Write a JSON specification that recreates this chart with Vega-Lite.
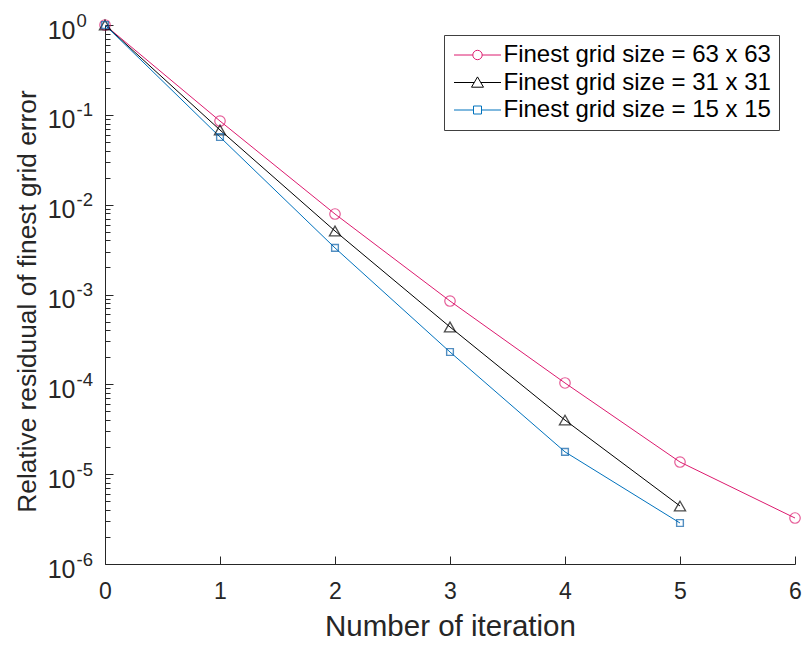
{
  "$schema": "https://vega.github.io/schema/vega-lite/v6.json",
  "autosize": {"type": "none"},
  "width": 690,
  "height": 539,
  "padding": {"left": 105, "top": 25, "right": 8, "bottom": 82},
  "background": "white",
  "config": {
    "font": "Liberation Sans",
    "view": {"stroke": null},
    "axis": {
      "grid": false,
      "domainColor": "#262626",
      "tickColor": "#262626",
      "labelColor": "#262626",
      "titleColor": "#262626",
      "labelFont": "Liberation Sans",
      "titleFont": "Liberation Sans",
      "titleFontWeight": "normal",
      "labelFontWeight": "normal",
      "domainWidth": 1,
      "tickWidth": 1
    }
  },
  "data": {
    "values": [
      {"iter": 0, "value": 1, "series": "Finest grid size = 63 x 63"},
      {"iter": 1, "value": 0.0853, "series": "Finest grid size = 63 x 63"},
      {"iter": 2, "value": 0.00787, "series": "Finest grid size = 63 x 63"},
      {"iter": 3, "value": 0.000846, "series": "Finest grid size = 63 x 63"},
      {"iter": 4, "value": 0.0001035, "series": "Finest grid size = 63 x 63"},
      {"iter": 5, "value": 0.00001365, "series": "Finest grid size = 63 x 63"},
      {"iter": 6, "value": 0.00000325, "series": "Finest grid size = 63 x 63"},
      {"iter": 0, "value": 1, "series": "Finest grid size = 31 x 31"},
      {"iter": 1, "value": 0.0678, "series": "Finest grid size = 31 x 31"},
      {"iter": 2, "value": 0.00509, "series": "Finest grid size = 31 x 31"},
      {"iter": 3, "value": 0.000435, "series": "Finest grid size = 31 x 31"},
      {"iter": 4, "value": 0.00004, "series": "Finest grid size = 31 x 31"},
      {"iter": 5, "value": 0.00000442, "series": "Finest grid size = 31 x 31"},
      {"iter": 0, "value": 1, "series": "Finest grid size = 15 x 15"},
      {"iter": 1, "value": 0.0566, "series": "Finest grid size = 15 x 15"},
      {"iter": 2, "value": 0.0033, "series": "Finest grid size = 15 x 15"},
      {"iter": 3, "value": 0.000229, "series": "Finest grid size = 15 x 15"},
      {"iter": 4, "value": 0.0000177, "series": "Finest grid size = 15 x 15"},
      {"iter": 5, "value": 0.00000286, "series": "Finest grid size = 15 x 15"}
    ]
  },
  "encoding": {
    "x": {
      "field": "iter",
      "type": "quantitative",
      "scale": {"domain": [0, 6], "nice": false, "zero": false},
      "axis": {
        "values": [0, 1, 2, 3, 4, 5, 6],
        "format": "d",
        "tickSize": -8,
        "labelPadding": 24,
        "labelFontSize": 23,
        "labelFlush": false,
        "labelOverlap": false,
        "title": "Number of iteration",
        "titleFontSize": 29.5,
        "titleY": 71,
        "titleBaseline": "alphabetic"
      }
    },
    "y": {
      "field": "value",
      "type": "quantitative",
      "scale": {"type": "log", "domain": [0.000001, 1], "nice": false},
      "axis": {
        "orient": "left",
        "values": [0.000001, 0.00001, 0.0001, 0.001, 0.01, 0.1, 1],
        "tickSize": -8,
        "labelPadding": 38,
        "labelFontSize": 25,
        "labelBaseline": "middle",
        "labelOffset": 5,
        "labelFlush": false,
        "labelOverlap": false,
        "labelExpr": "'10'",
        "title": "Relative residuual of finest grid error",
        "titleFontSize": 26.3,
        "titleAngle": 270,
        "titleX": -70,
        "titleY": 276,
        "titleBaseline": "alphabetic"
      }
    }
  },
  "layer": [
    {
      "mark": {"type": "point", "filled": false, "opacity": 0},
      "encoding": {
        "y": {
          "field": "value",
          "type": "quantitative",
          "axis": {
            "orient": "left",
            "values": [0.000002, 0.000003, 0.000004, 0.000005, 0.000006, 0.000007, 0.000008, 0.000009,
                       0.00002, 0.00003, 0.00004, 0.00005, 0.00006, 0.00007, 0.00008, 0.00009,
                       0.0002, 0.0003, 0.0004, 0.0005, 0.0006, 0.0007, 0.0008, 0.0009,
                       0.002, 0.003, 0.004, 0.005, 0.006, 0.007, 0.008, 0.009,
                       0.02, 0.03, 0.04, 0.05, 0.06, 0.07, 0.08, 0.09,
                       0.2, 0.3, 0.4, 0.5, 0.6, 0.7, 0.8, 0.9],
            "tickSize": -5,
            "labels": false,
            "domain": false,
            "title": null
          }
        },
        "color": {
          "field": "series",
          "type": "nominal",
          "scale": {
            "domain": ["Finest grid size = 63 x 63", "Finest grid size = 31 x 31", "Finest grid size = 15 x 15"],
            "range": ["#DC1A6E", "#000000", "#0072BD"]
          },
          "legend": {
            "title": null,
            "orient": "none",
            "legendX": 339,
            "legendY": 10,
            "strokeColor": "#404040",
            "fillColor": "white",
            "padding": 8,
            "rowPadding": 3.5,
            "labelFontSize": 24,
            "labelColor": "#000000",
            "labelFont": "Liberation Sans",
            "labelOffset": 14,
            "labelLimit": 0,
            "symbolSize": 400,
            "symbolOffset": 13.5,
            "symbolStrokeWidth": 1,
            "symbolOpacity": 1
          }
        },
        "shape": {
          "field": "series",
          "type": "nominal",
          "scale": {
            "domain": ["Finest grid size = 63 x 63", "Finest grid size = 31 x 31", "Finest grid size = 15 x 15"],
            "range": [
              "M-2.35,0L-0.47,0M0.47,0L2.35,0M0.47,0A0.47,0.47,0,1,1,-0.47,0A0.47,0.47,0,1,1,0.47,0",
              "M-2.35,0L-0.33,0M0.33,0L2.35,0M0,-0.56L0.6,0.47L-0.6,0.47Z",
              "M-2.35,0L-0.4,0M0.4,0L2.35,0M-0.4,-0.4L0.4,-0.4L0.4,0.4L-0.4,0.4Z"
            ]
          },
          "legend": {
            "title": null,
            "orient": "none",
            "legendX": 339,
            "legendY": 10,
            "strokeColor": "#404040",
            "fillColor": "white",
            "padding": 8,
            "rowPadding": 3.5,
            "labelFontSize": 24,
            "labelColor": "#000000",
            "labelFont": "Liberation Sans",
            "labelOffset": 14,
            "labelLimit": 0,
            "symbolSize": 400,
            "symbolOffset": 13.5,
            "symbolStrokeWidth": 1,
            "symbolOpacity": 1
          }
        }
      }
    },
    {
      "mark": {"type": "point", "opacity": 0},
      "encoding": {
        "y": {
          "field": "value",
          "type": "quantitative",
          "axis": {
            "orient": "left",
            "values": [0.000001, 0.00001, 0.0001, 0.001, 0.01, 0.1, 1],
            "ticks": false,
            "tickSize": 0,
            "domain": false,
            "labelAlign": "left",
            "labelBaseline": "middle",
            "labelOffset": -5,
            "labelPadding": 29,
            "labelFontSize": 18.5,
            "labelFlush": false,
            "labelOverlap": false,
            "labelExpr": "round(log(datum.value)/LN10) == 0 ? '0' : '-' + abs(round(log(datum.value)/LN10))",
            "title": null
          }
        }
      }
    },
    {
      "layer": [
        {
          "mark": {"type": "line", "strokeWidth": 1},
          "encoding": {
            "color": {"field": "series", "type": "nominal", "legend": null}
          }
        },
        {
          "transform": [{"filter": "datum.series === 'Finest grid size = 63 x 63'"}],
          "mark": {"type": "point", "shape": "circle", "filled": false, "size": 110, "strokeWidth": 1.2},
          "encoding": {"color": {"field": "series", "type": "nominal", "legend": null}}
        },
        {
          "transform": [{"filter": "datum.series === 'Finest grid size = 31 x 31'"}],
          "mark": {"type": "point", "shape": "triangle-up", "filled": false, "size": 125, "strokeWidth": 1.3},
          "encoding": {"color": {"field": "series", "type": "nominal", "legend": null}}
        },
        {
          "transform": [{"filter": "datum.series === 'Finest grid size = 15 x 15'"}],
          "mark": {"type": "point", "shape": "square", "filled": false, "size": 45, "strokeWidth": 1.4, "stroke": "#0A5FA8"},
          "encoding": {"color": {"field": "series", "type": "nominal", "legend": null}}
        }
      ]
    }
  ],
  "resolve": {"axis": {"y": "independent"}}
}
